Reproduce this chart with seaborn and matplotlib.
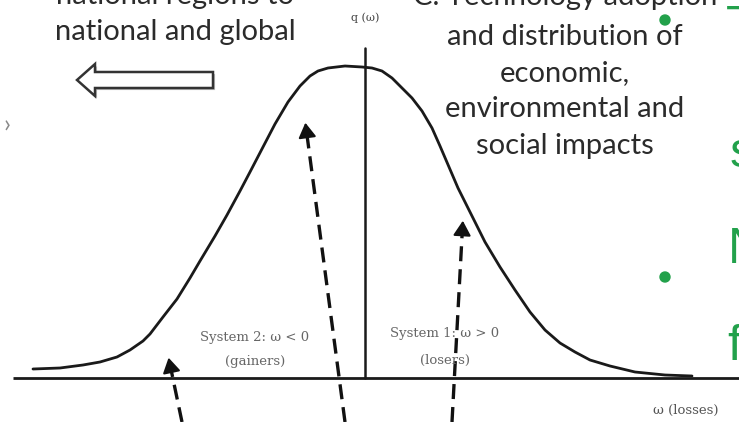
import matplotlib
matplotlib.use("Agg")
import matplotlib.pyplot as plt
import matplotlib.patches as mpatches
import matplotlib.patheffects as pe
import numpy as np
import pandas as pd
import seaborn as sns

# Distribution of impacts q(omega) over omega (losses); omega < 0 are gainers
omega = [-332, -305, -282, -265, -248, -235, -222, -215, -202, -188, -175,
         -165, -150, -138, -125, -115, -102, -90, -77, -65, -55, -47, -37,
         -20, -3, 7, 17, 27, 37, 47, 57, 67, 75, 84, 93, 105, 120, 135, 150,
         165, 180, 195, 210, 225, 245, 270, 300, 327]
q_omega = [9, 10, 13, 16, 21, 28, 37, 44, 61, 79, 100,
           117, 142, 163, 187, 206, 231, 254, 276, 292, 302, 307, 310,
           312, 311, 310, 307, 300, 290, 280, 267, 250, 232, 211, 190, 166, 136, 111, 88,
           66, 48, 35, 26, 18, 12, 6, 3, 2]

# Dashed arrows rising from below the omega axis into the distribution
arrow_tail_omega = [-183, -20, 87]
arrow_tail_q = [-44, -44, -44]
arrow_tip_omega = [-197, -60, 98]
arrow_tip_q = [23, 258, 160]

system_labels = [("System 2: \u03c9 < 0", "(gainers)"),
                 ("System 1: \u03c9 > 0", "(losers)")]
left_heading = ["national regions to", "national and global"]
right_heading = ["C. Technology adoption", "and distribution of", "economic,",
                 "environmental and", "social impacts"]
side_letters = ["T", "s", "N", "f"]

sns.set_theme(style="white")
plt.rcParams["font.family"] = ["Lato", "DejaVu Sans"]

fig = plt.figure(figsize=(7.39, 4.22), dpi=100)
ax = fig.add_axes([0, 0, 1, 1])
ax.set_xlim(-365, 374)
ax.set_ylim(-44, 378)
ax.axis("off")

df = pd.DataFrame({"omega": omega, "q": q_omega})
sns.lineplot(data=df, x="omega", y="q", ax=ax, color="#1a1a1a", lw=2.0,
             estimator=None, sort=False)
ax.lines[-1].set_solid_joinstyle("round")

# axes of the diagram
ax.plot([-352, 374], [0, 0], color="#1a1a1a", lw=2.0, solid_capstyle="butt")
ax.plot([0, 0], [0, 330], color="#1a1a1a", lw=1.8)
ax.text(0, 360, "q (\u03c9)", ha="center", va="center", fontsize=8,
        color="#444", family=["DejaVu Serif"])
ax.text(321, -32, "\u03c9 (losses)", ha="center", va="center", fontsize=9.5,
        color="#555", family=["DejaVu Serif"])

# dashed arrows
for tx, ty, hx, hy in zip(arrow_tail_omega, arrow_tail_q, arrow_tip_omega, arrow_tip_q):
    vec = np.array([hx - tx, hy - ty], dtype=float)
    unit = vec / np.hypot(*vec)
    end = np.array([hx, hy]) - unit * 8
    ax.plot([tx, end[0]], [ty, end[1]], color="#111", lw=2.4,
            dashes=(4.5, 2.4), solid_capstyle="butt")
    start = np.array([hx, hy]) - unit * 12
    ax.annotate("", xy=(hx, hy), xytext=(start[0], start[1]),
                arrowprops=dict(arrowstyle="-|>,head_length=0.75,head_width=0.45",
                                color="#111", lw=1.5))

# region labels
for (top, bottom), cx, ty, by in zip(system_labels, [-110, 80], [40, 45], [16, 18]):
    ax.text(cx, ty, top, ha="center", va="center", fontsize=9.5,
            color="#666", family=["DejaVu Serif"])
    ax.text(cx, by, bottom, ha="center", va="center", fontsize=9.5,
            color="#666", family=["DejaVu Serif"])

# headings
for txt, yy in zip(left_heading, [382, 346]):
    ax.text(-190, yy, txt, ha="center", va="center", fontsize=21, color="#2b2b2b")
for txt, yy in zip(right_heading, [381, 341, 305, 269, 232]):
    ax.text(200, yy, txt, ha="center", va="center", fontsize=21, color="#2b2b2b")

# hollow arrow pointing outward
big_arrow = mpatches.FancyArrow(-152, 298, -118, 0, width=16, head_width=32,
                                head_length=18, length_includes_head=False,
                                fc="white", ec="#333", lw=1.8)
big_arrow.set_path_effects([pe.SimplePatchShadow(offset=(1.5, -1.5), alpha=0.35),
                            pe.Normal()])
ax.add_patch(big_arrow)

# slide bullets and text on the right edge
green = "#22a14b"
for by in [358, 101]:
    ax.add_patch(mpatches.Ellipse((300, by), 10, 10, color=green))
for letter, bx, by in zip(side_letters, [361, 365, 363, 362], [337, 211, 115, 18]):
    ax.text(bx, by, letter, ha="left", va="baseline", fontsize=36, color=green,
            family=["Liberation Sans"], clip_on=False)

ax.text(-362, 253, "\u203a", ha="left", va="center", fontsize=18, color="#888")

fig.savefig("out.png", dpi=100)
